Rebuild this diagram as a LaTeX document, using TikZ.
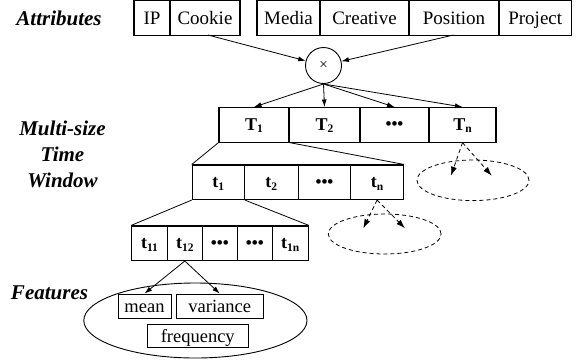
\documentclass[tikz,border=0pt]{standalone}
\usepackage{fontspec}
\setmainfont{Liberation Serif}
\usetikzlibrary{arrows.meta,shapes.geometric}
\newcommand\sbs[1]{\raisebox{-2.8pt}{\fontsize{11.5}{11.5}\selectfont #1}}
\begin{document}
\begin{tikzpicture}[x=1pt,y=-1pt,
  cell/.style={draw, line width=1.1pt, inner sep=0pt, minimum height=34.5pt, text height=13.5pt, text depth=0.5pt, font=\fontsize{19}{19}\selectfont},
  bcell/.style={cell, text height=12pt, text depth=1.6pt, font=\fontsize{18}{18}\selectfont\bfseries},
  dots/.style={text height=9.8pt, text depth=0pt, font=\fontsize{17}{17}\selectfont\bfseries},
  fbox/.style={draw, line width=0.9pt, inner sep=0pt, minimum height=24pt, text height=13pt, text depth=1pt, font=\fontsize{18.5}{18.5}\selectfont},
  lab/.style={font=\fontsize{21}{26}\selectfont\bfseries\itshape, align=center},
  arr/.style={line width=0.8pt, -{Latex[length=7.5pt,width=5pt]}},
  darr/.style={line width=0.8pt, dashed, dash pattern=on 4pt off 3pt, -{Latex[length=9pt,width=6pt]}},
  link/.style={line width=0.8pt},
  dell/.style={draw, ellipse, dashed, dash pattern=on 4pt off 3pt, line width=0.8pt, inner sep=0pt}
]
\useasboundingbox (0,0) rectangle (576,360);

% labels
\node[lab] (lattr) at (59,18.3) {Attributes};
\node[lab] (lmts) at (62.5,154) {Multi-size\\Time\\Window};
\node[lab] (lfeat) at (49.5,292.5) {Features};

% attribute boxes
\node[cell, minimum width=36pt] (ip) at (152,18) {IP};
\node[cell, minimum width=70pt] (cookie) at (205,18) {Cookie};
\node[cell, minimum width=63pt] (media) at (288.5,18) {Media};
\node[cell, minimum width=89pt] (creative) at (364.5,18) {Creative};
\node[cell, minimum width=90pt] (position) at (454,18) {Position};
\node[cell, minimum width=72.5pt] (project) at (535.25,18) {Project};

% cross circle
\node[draw, circle, line width=0.9pt, minimum size=36pt, inner sep=0pt, font=\fontsize{15}{15}\selectfont] (circ) at (323.5,65.5) {×};
\coordinate (a1) at (208,35);
\coordinate (a2) at (453.5,35);
\draw[arr] (a1) -- (circ);
\draw[arr] (a2) -- (circ);

% T row
\node[bcell, minimum width=70pt] (T1) at (254,124.8) {T\sbs{1}};
\node[bcell, minimum width=71pt] (T2) at (324.5,124.8) {T\sbs{2}};
\node[bcell, dots, minimum width=69pt] (Td) at (394.5,124.8) {•••};
\node[bcell, minimum width=67pt] (Tn) at (462.5,124.8) {T\sbs{n}};
\draw[arr] (circ.south) -- (T1.north);
\draw[arr] (circ.south) -- (T2.north);
\draw[arr] (circ.south) -- (Td.north);
\draw[arr] (circ.south) -- (Tn.north);

% t row
\node[bcell, minimum width=52pt] (t1) at (218.3,182.25) {t\sbs{1}};
\node[bcell, minimum width=54pt] (t2) at (271.3,182.25) {t\sbs{2}};
\node[bcell, dots, minimum width=52.4pt] (td) at (324.5,182.25) {•••};
\node[bcell, minimum width=52.8pt] (tn) at (377.1,182.25) {t\sbs{n}};
\draw[link] (T1.south west) -- (t1.north west);
\draw[link] (T1.south east) -- (tn.north east);

% t1x row
\node[bcell, minimum width=35.6pt] (t11) at (149.5,243.2) {t\sbs{11}};
\node[bcell, minimum width=35pt] (t12) at (184.8,243.2) {t\sbs{12}};
\node[bcell, dots, minimum width=35pt] (tda) at (219.8,243.2) {•••};
\node[bcell, dots, minimum width=35pt] (tdb) at (254.8,243.2) {•••};
\node[bcell, minimum width=36pt] (t1n) at (290.3,243.2) {t\sbs{1n}};
\draw[link] (t1.south west) -- (t11.north west);
\draw[link] (t1.south east) -- (t1n.north east);

% dashed ellipses
\node[dell, minimum width=112pt, minimum height=40.6pt] (e1) at (473,180.3) {};
\node[dell, minimum width=112.8pt, minimum height=40pt] (e2) at (384.7,234) {};
\coordinate (d1) at (451,175.7);
\coordinate (d2) at (491.7,175.7);
\coordinate (d3) at (363.3,228.3);
\coordinate (d4) at (405,228.3);
\draw[darr] (Tn.south) -- (d1);
\draw[darr] (Tn.south) -- (d2);
\draw[darr] (tn.south) -- (d3);
\draw[darr] (tn.south) -- (d4);

% features
\node[draw, ellipse, line width=0.9pt, minimum width=223.2pt, minimum height=75pt, inner sep=0pt] (fe) at (195.4,320.5) {};
\node[fbox, minimum width=53pt] (mean) at (144.5,306) {mean};
\node[fbox, minimum width=87.5pt] (var) at (219.75,306) {variance};
\node[fbox, minimum width=101.5pt, minimum height=23.4pt] (freq) at (197.75,336) {frequency};
\draw[arr] (t12.south) -- (mean.north);
\draw[arr] (t12.south) -- (var.north);
\end{tikzpicture}
\end{document}
